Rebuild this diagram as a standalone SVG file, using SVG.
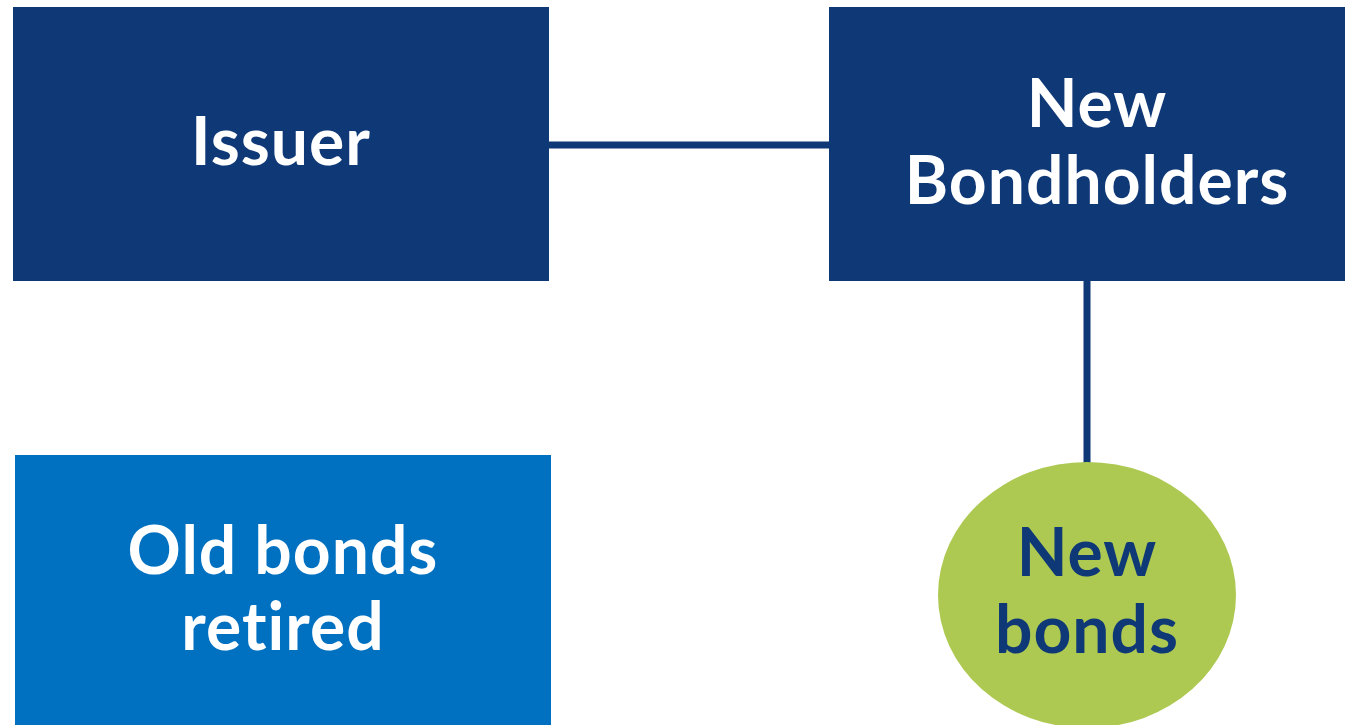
<svg xmlns="http://www.w3.org/2000/svg" width="1345" height="725" viewBox="0 0 1345 725">
<style>
.lbl{font-family:Lato,"Open Sans","Liberation Sans",sans-serif;font-weight:700;font-size:66px;letter-spacing:1px;text-anchor:middle}
.w{fill:#ffffff}
.d{fill:#0F3877}
.conn{stroke:#0F3877;stroke-width:7;fill:none}
</style>
<rect width="1345" height="725" fill="#ffffff"/>
<g id="connectors">
<line class="conn" x1="549" y1="145" x2="829" y2="145"/>
<line class="conn" x1="1087" y1="281" x2="1087" y2="463"/>
</g>
<g id="issuer">
<rect x="13" y="7" width="536" height="274" fill="#0F3877"/>
<text class="lbl w" x="281" y="165">Issuer</text>
</g>
<g id="new-bondholders">
<rect x="829" y="7" width="516" height="274" fill="#0F3877"/>
<text class="lbl w" x="1097" y="127">New</text>
<text class="lbl w" x="1097" y="204">Bondholders</text>
</g>
<g id="old-bonds">
<rect x="15" y="455" width="536" height="275" fill="#0070C0"/>
<text class="lbl w" x="283" y="574">Old bonds</text>
<text class="lbl w" x="283" y="650">retired</text>
</g>
<g id="new-bonds">
<ellipse cx="1087" cy="595" rx="149" ry="133" fill="#ADC951"/>
<text class="lbl d" x="1087" y="576">New</text>
<text class="lbl d" x="1087" y="653">bonds</text>
</g>
</svg>
